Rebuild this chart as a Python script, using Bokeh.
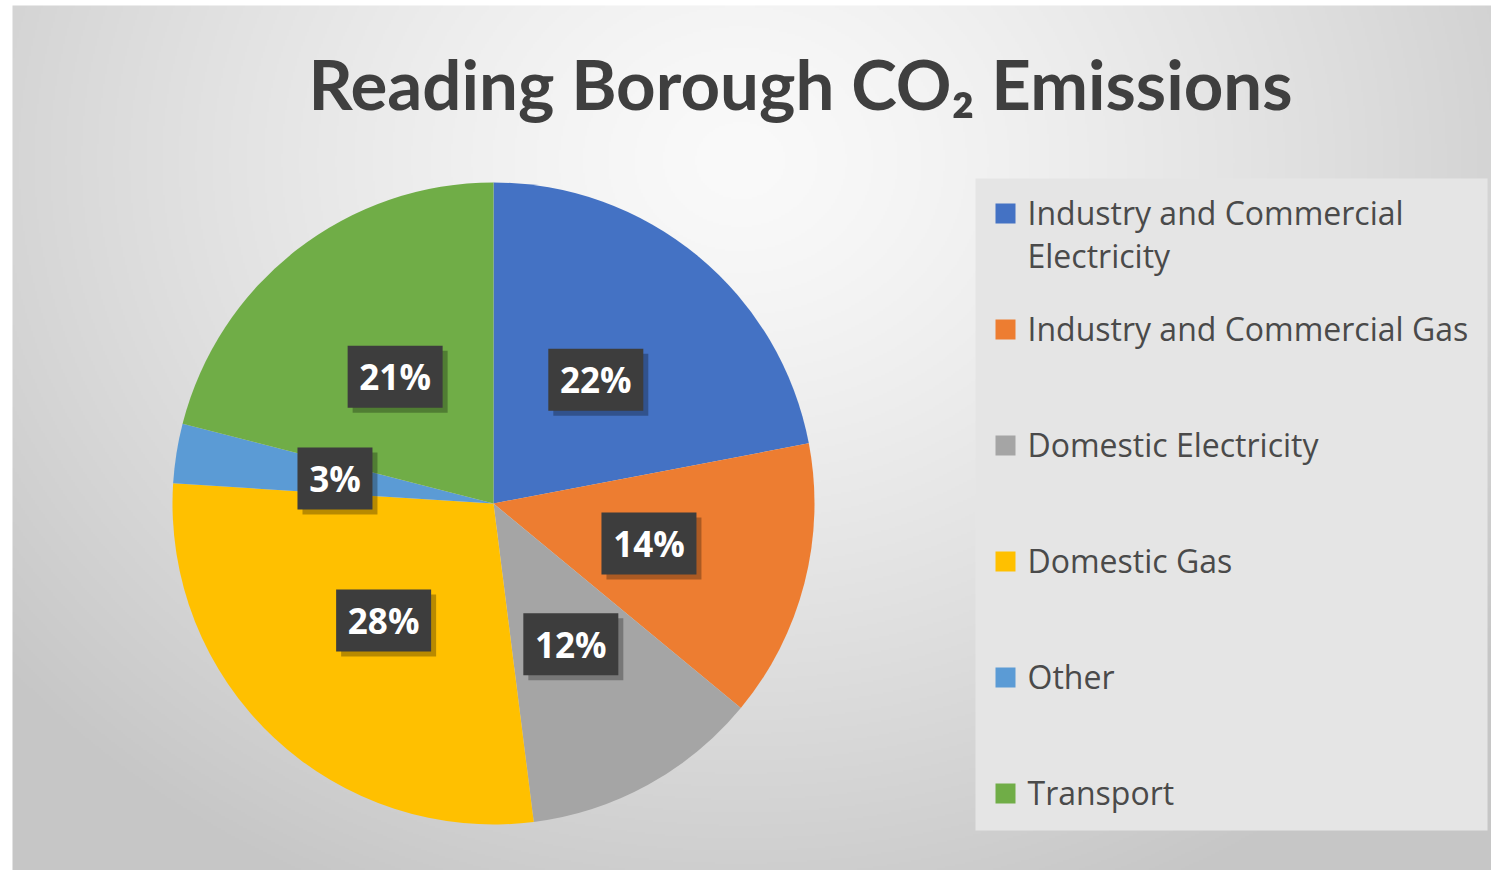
import numpy as np
from bokeh.plotting import figure
from bokeh.models import Range1d, ColumnDataSource
from bokeh.core.properties import value
from bokeh.embed import file_html
from bokeh.resources import INLINE

# ---------------- data ----------------
categories = ["Industry and Commercial Electricity", "Industry and Commercial Gas",
              "Domestic Electricity", "Domestic Gas", "Other", "Transport"]
shares = [22, 14, 12, 28, 3, 21]
colors = ["#4472C4", "#ED7D31", "#A5A5A5", "#FFC000", "#5B9BD5", "#70AD47"]
legend_labels = ["Industry and Commercial\nElectricity", "Industry and Commercial Gas",
                 "Domestic Electricity", "Domestic Gas", "Other", "Transport"]
title_text = "Reading Borough CO\u2082 Emissions"

# ---------------- canvas ----------------
W, H = 1491, 870
p = figure(width=W, height=H, x_range=Range1d(0, W), y_range=Range1d(0, H),
           output_backend="svg", toolbar_location=None, min_border=0,
           x_axis_location=None, y_axis_location=None)
p.grid.visible = False
p.outline_line_color = None
p.background_fill_color = "white"
p.border_fill_color = "white"

# radial gradient background (decoration)
x0, ytop = 12, 5
gw, gh = 740, 433
xs = x0 + (np.arange(gw) + 0.5) * (W - x0) / gw
ys_top = (H) - (np.arange(gh) + 0.5) * (H - ytop) / gh
X, Y = np.meshgrid(xs, ys_top)
d = np.sqrt(((X - 740) / 1000.0) ** 2 + ((Y - 160) / 850.0) ** 2)
v = 250 - np.minimum(52, 55 * d ** 1.3)
img = np.empty((gh, gw), dtype=np.uint32)
view = img.view(dtype=np.uint8).reshape((gh, gw, 4))
view[..., 0] = v
view[..., 1] = v
view[..., 2] = v
view[..., 3] = 255
p.image_rgba(image=[img], x=x0, y=0, dw=W - x0, dh=H - ytop)

# ---------------- pie ----------------
cx, cy, R = 493, H - 503, 321
vals = np.array(shares, dtype=float)
frac = vals / vals.sum()
cum = np.concatenate([[0], np.cumsum(frac)])
start = np.pi / 2 - cum[:-1] * 2 * np.pi
end = np.pi / 2 - cum[1:] * 2 * np.pi
src = ColumnDataSource(dict(cat=categories, start=start, end=end, color=colors))
p.wedge(x=cx, y=cy, radius=R, start_angle="start", end_angle="end",
        direction="clock", fill_color="color", line_color=None, source=src)

# data labels
mid = np.pi / 2 - (cum[:-1] + frac / 2) * 2 * np.pi
lr = 0.5 * R
lx = cx + lr * np.cos(mid)
ly = cy + lr * np.sin(mid)
labels = [f"{s:.0f}%" for s in vals]
bw = [20 * len(t) + 35 for t in labels]
lsrc = ColumnDataSource(dict(x=lx, y=ly, sx=lx + 5, sy=ly - 5, w=bw, t=labels))
p.rect(x="sx", y="sy", width="w", height=62, width_units="screen", height_units="screen",
       fill_color="black", fill_alpha=0.28, line_color=None, source=lsrc)
p.rect(x="x", y="y", width="w", height=62, width_units="screen", height_units="screen",
       fill_color="#3d3d3d", line_color=None, source=lsrc)
p.text(x="x", y="y", text="t", text_font=value("Open Sans"), text_font_style="bold",
       text_font_size="35px", text_color="white", text_align="center",
       text_baseline="middle", source=lsrc)

# ---------------- title ----------------
p.text(x=[800], y=[H - 83], text=[title_text], text_font=value("Lato"),
       text_font_style="bold", text_font_size="69px", text_color="#3f3f3f",
       text_align="center", text_baseline="middle")

# ---------------- legend ----------------
p.quad(left=[975], right=[1487], bottom=[H - 830], top=[H - 178],
       fill_color="#e5e5e5", line_color=None)
n = len(categories)
ly0 = np.array([H - 213 - 116 * i for i in range(n)], dtype=float)
legsrc = ColumnDataSource(dict(x=[1005] * n, y=ly0, tx=[1027] * n, ty=ly0 + 23,
                               c=colors, t=legend_labels))
p.rect(x="x", y="y", width=20, height=20, width_units="screen", height_units="screen",
       fill_color="c", line_color=None, source=legsrc)
p.text(x="tx", y="ty", text="t", text_font=value("Open Sans"), text_font_size="32px",
       text_color="#4a4a4a", text_align="left", text_baseline="top",
       text_line_height=1.0, source=legsrc)

open("out.html", "w").write(file_html(p, INLINE))
